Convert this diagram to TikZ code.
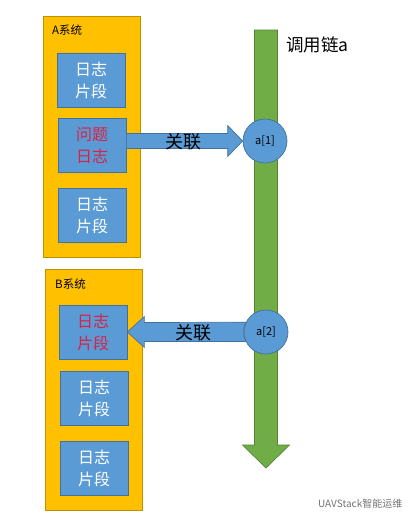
\documentclass[tikz,border=0pt]{standalone}
\usepackage{fontspec}
\setmainfont{Noto Sans CJK SC}
\usepackage{tikz}
\usetikzlibrary{calc}
\definecolor{sysorange}{RGB}{255,192,0}
\definecolor{sysedge}{RGB}{191,144,0}
\definecolor{logblue}{RGB}{91,155,213}
\definecolor{logedge}{RGB}{65,113,156}
\definecolor{chaingreen}{RGB}{112,173,71}
\definecolor{chainedge}{RGB}{84,130,53}
\definecolor{alertred}{RGB}{215,35,70}

\begin{document}
\begin{tikzpicture}[x=1pt, y=-1pt,
    sysbox/.style={rectangle, draw=sysedge, fill=sysorange, line width=0.7pt,
                   anchor=north west, inner sep=0pt, minimum width=97pt, minimum height=241pt},
    systitle/.style={anchor=west, inner sep=0pt, font=\fontsize{11.5}{13}\selectfont},
    logbox/.style={rectangle, draw=logedge, fill=logblue, line width=0.7pt, text=white,
                   minimum width=68pt, minimum height=54pt, align=center, inner sep=0pt,
                   font=\fontsize{16}{22}\selectfont},
    alert/.style={text=alertred},
    callnode/.style={circle, draw=logedge, fill=logblue, line width=0.7pt,
                     minimum size=44pt, inner sep=0pt, font=\fontsize{11}{13}\selectfont},
    blockarr/.style={draw=logedge, fill=logblue, line width=0.7pt, line join=miter},
    chainarr/.style={draw=chainedge, fill=chaingreen, line width=0.7pt, line join=miter},
    linklabel/.style={inner sep=0pt, font=\fontsize{18}{20}\selectfont}]
\useasboundingbox (0,0) rectangle (416,522);

\node[sysbox] (sysA) at (43,16) {};
\node[systitle] (titleA) at (52,30) {A系统};
\node[logbox] (logA1) at (91,80) {日志\\片段};
\node[logbox, alert] (logA2) at (92,145) {问题\\日志};
\node[logbox] (logA3) at (92,215) {日志\\片段};

\node[sysbox] (sysB) at (45,269) {};
\node[systitle] (titleB) at (55,284) {B系统};
\node[logbox, alert] (logB1) at (93,332.5) {日志\\片段};
\node[logbox] (logB2) at (94,398.5) {日志\\片段};
\node[logbox] (logB3) at (94,468.5) {日志\\片段};

% call chain
\coordinate (chaintop) at (266,30);
\coordinate (chainend) at (266,468);
\draw[chainarr] ($(chaintop)+(-11.5,0)$) -- ($(chaintop)+(11.5,0)$)
    -- ($(chainend)+(11.5,-23)$) -- ($(chainend)+(23.5,-23)$) -- (chainend)
    -- ($(chainend)+(-23.5,-23)$) -- ($(chainend)+(-11.5,-23)$) -- cycle;
\node[anchor=west, inner sep=0pt, font=\fontsize{17.5}{20}\selectfont] (chainname) at (286,45) {调用链a};

\node[callnode] (call1) at (265,141) {a[1]};
\node[callnode] (call2) at (266,332) {a[2]};

% links
\draw[blockarr] ($(logA2.east |- call1.west)+(0,-7.5)$) -- ($(call1.west)+(-15,-7.5)$)
    -- ($(call1.west)+(-15,-15.5)$) -- (call1.west) -- ($(call1.west)+(-15,15.5)$)
    -- ($(call1.west)+(-15,7.5)$) -- ($(logA2.east |- call1.west)+(0,7.5)$) -- cycle;
\draw[blockarr] (call2.154.4) -- ($(logB1.east |- call2.west)+(17,-9.5)$)
    -- ($(logB1.east |- call2.west)+(17,-15.5)$) -- (logB1.east |- call2.west)
    -- ($(logB1.east |- call2.west)+(17,15.5)$) -- ($(logB1.east |- call2.west)+(17,9.5)$)
    -- (call2.205.6) arc[start angle=205.6, end angle=154.4, radius=22pt];
\node[linklabel] (link1) at (183,142) {关联};
\node[linklabel] (link2) at (193,333) {关联};

\node[anchor=west, inner sep=0pt, text=black!55, font=\fontsize{10}{12}\selectfont] (mark) at (318,504) {UAVStack智能运维};
\end{tikzpicture}
\end{document}
